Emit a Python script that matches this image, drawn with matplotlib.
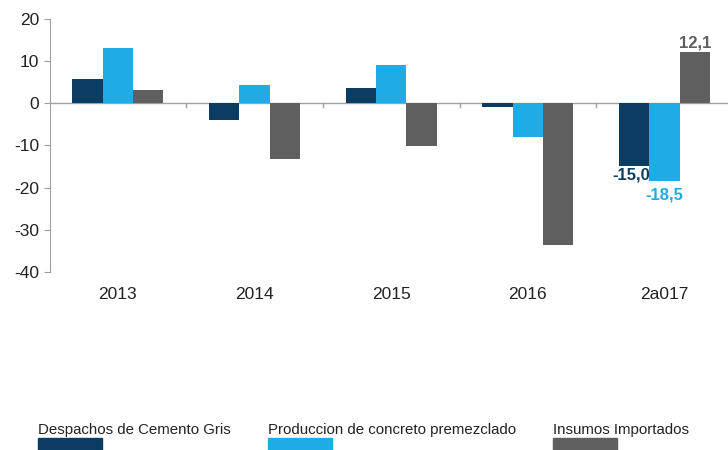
import matplotlib.pyplot as plt
import numpy as np
from matplotlib.patches import Rectangle
from matplotlib.transforms import blended_transform_factory

plt.rcParams['font.family'] = ['Liberation Sans', 'DejaVu Sans']
plt.rcParams['axes.unicode_minus'] = False

categorias = ["2013", "2014", "2015", "2016", "2a017"]
series = ["Despachos de Cemento Gris", "Produccion de concreto premezclado", "Insumos Importados"]
despachos = [5.7, -4.0, 3.7, -0.9, -15.0]
concreto = [13.1, 4.4, 9.0, -8.0, -18.5]
insumos = [3.1, -13.3, -10.2, -33.6, 12.1]
colores = ["#0b3d63", "#1fabe3", "#5f5f5f"]

fig = plt.figure(figsize=(7.28, 4.5), dpi=100)
ax = fig.add_axes([0.069, 0.396, 0.931, 0.562])

x = np.arange(len(categorias))
ancho = 0.222
for k, valores in enumerate([despachos, concreto, insumos]):
    ax.bar(x + (k - 1) * ancho, valores, ancho, color=colores[k], zorder=2)

ax.set_xlim(-0.494, 4.464)
ax.set_ylim(-40, 20)
ax.set_yticks(np.arange(-40, 21, 10))
ax.tick_params(axis='y', labelsize=12.5, colors='#222222', length=4, color='#a0a0a0', pad=4)
ax.tick_params(axis='x', bottom=False, labelbottom=False)
for s in ['top', 'right', 'bottom']:
    ax.spines[s].set_visible(False)
ax.spines['left'].set_color('#a0a0a0')

# linea del cero y separadores
ax.axhline(0, color='#a0a0a0', lw=1, zorder=1)
for b in x[:-1] + 0.5:
    ax.plot([b, b], [0, -0.9], color='#a0a0a0', lw=1, zorder=1)

trans = blended_transform_factory(ax.transData, ax.transAxes)
for xi, c in zip(x, categorias):
    ax.text(xi, -0.09, c, transform=trans, ha='center', va='center', fontsize=12.5, color='#222222')

# etiquetas de datos
ax.text(x[4] + ancho, insumos[4] + 0.5, "12,1", ha='center', va='bottom',
        fontsize=12, fontweight='bold', color=colores[2])
ax.text(x[4] - 0.5 * ancho + 0.005, despachos[4] - 0.3, "-15,0", ha='right', va='top',
        fontsize=12, fontweight='bold', color=colores[0])
ax.text(x[4], concreto[4] - 1.5, "-18,5", ha='center', va='top',
        fontsize=12, fontweight='bold', color=colores[1])

# leyenda
legend_x = [38, 268, 553]
for lx, nombre, col in zip(legend_x, series, colores):
    fig.text(lx / 728, 1 - 430 / 450, nombre, ha='left', va='center', fontsize=10.8, color='#222222')
    fig.add_artist(Rectangle((lx / 728, 0), 64 / 728, 12 / 450, transform=fig.transFigure,
                             color=col))

plt.savefig("out.png", dpi=100)
plt.close()
